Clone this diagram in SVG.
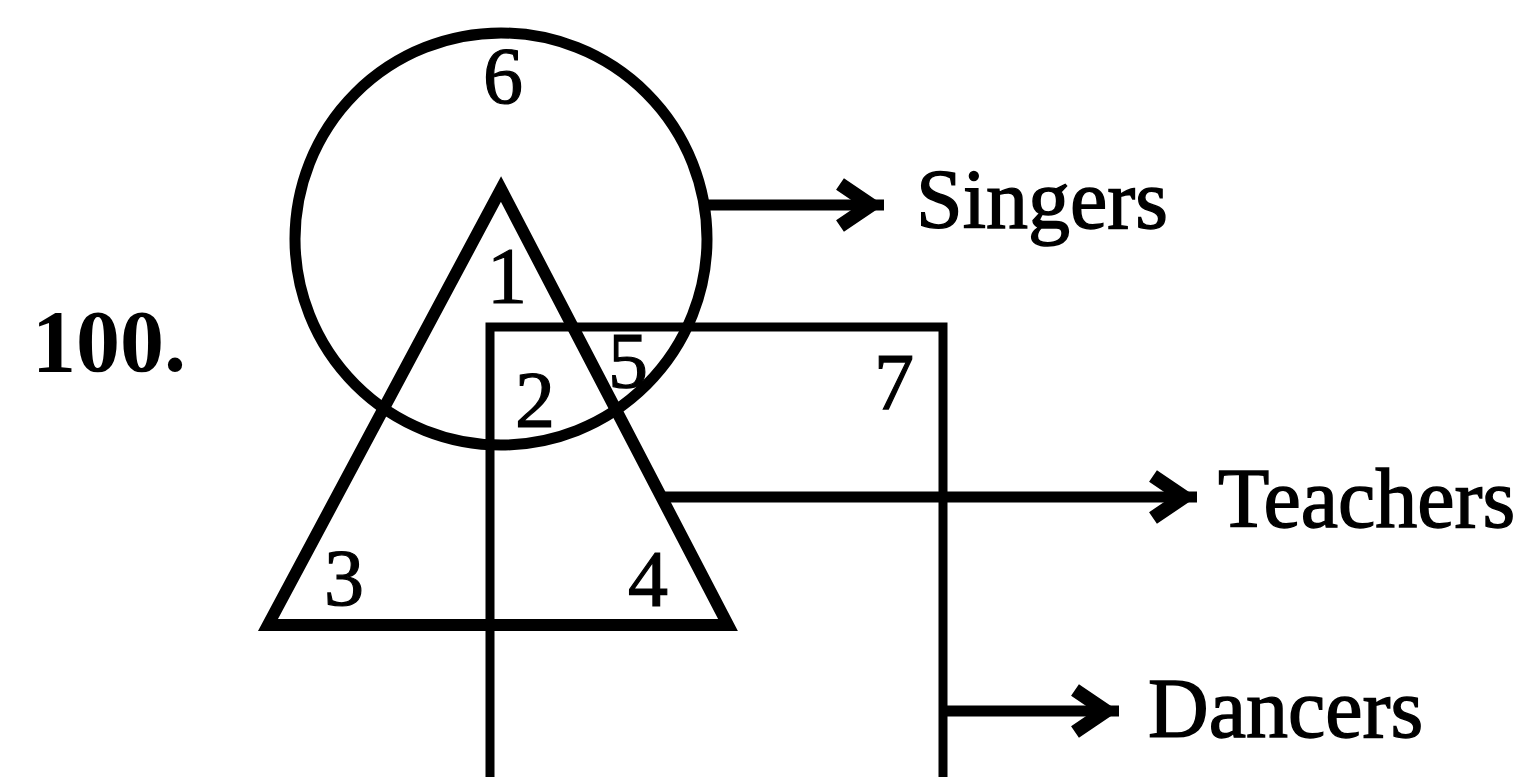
<svg xmlns="http://www.w3.org/2000/svg" width="1523" height="777" viewBox="0 0 1523 777">
<style>
.shape{fill:none;stroke:#000;stroke-linejoin:miter}
.conn{stroke:#000;stroke-width:11;fill:none}
.num{font-family:"Liberation Serif","Times New Roman",serif;font-size:80px;fill:#000;stroke:#000;stroke-width:1.2;text-anchor:middle}
.lbl{font-family:"Liberation Serif","Times New Roman",serif;font-size:84px;fill:#000;stroke:#000;stroke-width:1.4}
.qn{font-family:"Liberation Serif","Times New Roman",serif;font-size:88px;font-weight:bold;fill:#000}
</style>
<defs>
<marker id="head" markerUnits="userSpaceOnUse" markerWidth="80" markerHeight="80" viewBox="-60 -40 80 80" refX="0" refY="0" orient="auto">
<path d="M-44,-21 L-13,0 L-44,21" fill="none" stroke="#000" stroke-width="14"/>
</marker>
</defs>
<rect width="1523" height="777" fill="#fff"/>
<text class="qn" x="32" y="371">100.</text>
<g id="singers">
<circle class="shape" cx="501" cy="239" r="206" stroke-width="11"/>
</g>
<g id="teachers">
<polygon class="shape" points="501,189 268,625 728,625" stroke-width="12"/>
</g>
<g id="dancers">
<polyline class="shape" points="490,790 490,327 943,327 943,790" stroke-width="9"/>
</g>
<g id="connectors">
<line class="conn" x1="706" y1="205" x2="884" y2="205" marker-end="url(#head)"/>
<line class="conn" x1="661" y1="497" x2="1197" y2="497" marker-end="url(#head)"/>
<line class="conn" x1="943" y1="711" x2="1119" y2="711" marker-end="url(#head)"/>
</g>
<g id="labels">
<text class="lbl" x="916" y="228">Singers</text>
<text class="lbl" x="1218" y="527">Teachers</text>
<text class="lbl" x="1148" y="737">Dancers</text>
<text class="num" x="503" y="103">6</text>
<text class="num" x="507" y="303">1</text>
<text class="num" x="535" y="427">2</text>
<text class="num" x="628" y="388" font-size="74">5</text>
<text class="num" x="344" y="605">3</text>
<text class="num" x="648" y="606">4</text>
<text class="num" x="894" y="409">7</text>
</g>
</svg>
